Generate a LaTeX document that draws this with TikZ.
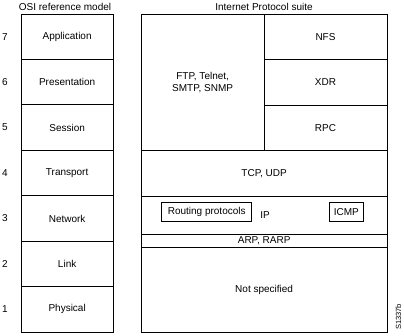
\documentclass[tikz,border=0pt]{standalone}
\usepackage{fontspec}
\setmainfont{Liberation Sans}
\usetikzlibrary{positioning}
\tikzset{
    layer/.style={
        draw,
        line width=0.9pt,
        outer sep=0pt,
        inner sep=0pt,
        minimum width=92.3pt,
        minimum height=45.43pt,
        align=center
    },
    ipbox/.style={
        draw,
        line width=0.9pt,
        outer sep=0pt,
        inner sep=0pt,
        align=center
    },
    protobox/.style={
        draw,
        line width=0.9pt,
        inner sep=0pt,
        minimum height=19.5pt
    },
    layernum/.style={inner sep=0pt},
    figid/.style={rotate=90, inner sep=0pt, font=\fontsize{7.5}{8}\selectfont},
    every node/.style={font=\fontsize{10}{11.5}\selectfont}
}

\begin{document}
\begin{tikzpicture}[x=1pt, y=-1pt]
\useasboundingbox (0,0) rectangle (404,335);

% OSI reference model
\node (osititle) at (65,7) {OSI reference model};
\node[layer, anchor=north west] (app) at (21,14) {Application};
\node[layer, below=0pt of app] (pres) {Presentation};
\node[layer, below=0pt of pres] (sess) {Session};
\node[layer, below=0pt of sess] (trans) {Transport};
\node[layer, below=0pt of trans] (net) {Network};
\node[layer, below=0pt of net] (link) {Link};
\node[layer, below=0pt of link] (phys) {Physical};

\node[layernum, left=13pt of app] (n7) {7};
\node[layernum, left=13pt of pres] (n6) {6};
\node[layernum, left=13pt of sess] (n5) {5};
\node[layernum, left=13pt of trans] (n4) {4};
\node[layernum, left=13pt of net] (n3) {3};
\node[layernum, left=13pt of link] (n2) {2};
\node[layernum, left=13pt of phys] (n1) {1};

% Internet Protocol suite
\node (iptitle) at (264,7) {Internet Protocol suite};
\node[ipbox, anchor=north west, minimum width=122.7pt, minimum height=136.7pt] (apps) at (141.3,14) {FTP, Telnet,\\SMTP, SNMP};
\node[ipbox, anchor=north west, minimum width=123pt, minimum height=45.57pt] (nfs) at (apps.north east) {NFS};
\node[ipbox, below=0pt of nfs, minimum width=123pt, minimum height=45.57pt] (xdr) {XDR};
\node[ipbox, below=0pt of xdr, minimum width=123pt, minimum height=45.57pt] (rpc) {RPC};
\node[ipbox, anchor=north west, minimum width=245.7pt, minimum height=46pt] (tcp) at (apps.south west) {TCP, UDP};
\node[ipbox, below=0pt of tcp, minimum width=245.7pt, minimum height=37.3pt] (ip) {};
\node[ipbox, below=0pt of ip, minimum width=245.7pt, minimum height=13.3pt] (arp) {ARP, RARP};
\node[ipbox, below=0pt of arp, minimum width=245.7pt, minimum height=84.7pt] (unspec) {Not specified};

\node (iplabel) at (265,215) {IP};
\node[protobox, minimum width=90pt] (routing) at (206.7,212) {Routing protocols};
\node[protobox, minimum width=34pt] (icmp) at (346.3,212) {ICMP};

\node[figid] (fig) at (398.5,317) {S1337b};
\end{tikzpicture}
\end{document}
